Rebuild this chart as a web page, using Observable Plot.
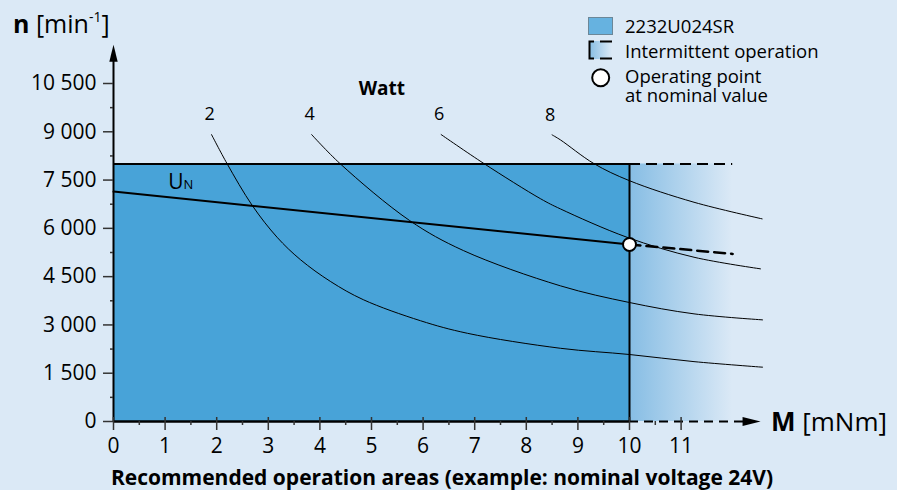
<!DOCTYPE html>
<html><head><meta charset="utf-8">
<script src="https://cdn.jsdelivr.net/npm/d3@7"></script>
<script src="https://cdn.jsdelivr.net/npm/@observablehq/plot@0.6"></script>
<style>
html,body{margin:0;padding:0;background:#dbe9f6;}
#chart svg{display:block;}
</style></head><body><div id="chart"></div>
<script>
// ---------- data ----------
const xTicks = [0,1,2,3,4,5,6,7,8,9,10,11];
const xTickLabels = ["0","1","2","3","4","5","6","7","8","9","10","11"];
const xMinorTicks = [0.5,1.5,2.5,3.5,4.5,5.5,6.5,7.5,8.5,9.5,10.5];
const yTicks = [0,1500,3000,4500,6000,7500,9000,10500];
const yTickLabels = ["0","1 500","3 000","4 500","6 000","7 500","9 000","10 500"];
const yMinorTicks = [750,2250,3750,5250,6750,8250,9750];

// recommended area (continuous) and intermittent extension [mNm, min-1]
const areaTorque = [0, 10];
const areaSpeed = [0, 8000];
const intermittentTorqueEnd = 12;
const axisEndTorque = 12.54;
const axisEndSpeed = 11700;

// nominal voltage line U_N
const unContinuous = [[0,7143],[10,5500]];
const unIntermittent = [[10,5500],[12,5207]];
const operatingPoint = [[10,5500]];

// constant power curves (Watt)
const powerLabels = ["2","4","6","8"];
const power2W = [[1.90,8913],[2.20,8012],[2.69,6708],[3.17,5724],[3.62,5031],[4.21,4345],[4.84,3785],[5.95,3130],[6.86,2740],[8.66,2275],[10,2081],[11.25,1860],[12.58,1687]];
const power4W = [[3.84,8913],[4.39,8012],[5.74,6242],[6.78,5311],[8.66,4215],[10,3696],[11.25,3344],[12.58,3157]];
const power6W = [[6.35,8913],[7.18,8012],[8.28,6916],[8.66,6605],[9.95,5724],[11.25,5103],[12.54,4742]];
const power8W = [[8.50,8904],[8.66,8750],[9.31,8012],[10,7480],[11.25,6811],[12.57,6295]];

const powerSeries = [power2W, power4W, power6W, power8W];
const powerTable = powerSeries.flatMap((pts, i) => pts.map(([m, n]) => ({w: powerLabels[i], m, n})));
const powerStarts = powerSeries.map((pts, i) => ({w: powerLabels[i], m: pts[0][0], n: pts[0][1]}));

// ---------- style ----------
const BG = "#dbe9f6", BLUE = "#48a3d8";
const FONT = "'Open Sans', sans-serif";

const arrowUp = {draw(ctx){ ctx.moveTo(0,0); ctx.lineTo(4.2,17); ctx.lineTo(-4.2,17); ctx.closePath(); }};
const arrowRight = {draw(ctx){ ctx.moveTo(0,0); ctx.lineTo(-18,-4.5); ctx.lineTo(-18,4.5); ctx.closePath(); }};

function defs() {
  const d = d3.create("svg:defs");
  const g = d.append("linearGradient").attr("id","interm").attr("x1",0).attr("x2",1).attr("y1",0).attr("y2",0);
  g.append("stop").attr("offset",0).attr("stop-color","#86bde4");
  g.append("stop").attr("offset",1).attr("stop-color",BG);
  return d.node();
}

function labels(index, scales) {
  const g = d3.create("svg:g").attr("font-family", FONT).attr("fill", "black").attr("text-anchor", "start");
  // y title
  const yt = g.append("text").attr("x", 13).attr("y", 33).attr("font-size", 25);
  yt.append("tspan").attr("font-weight", "bold").text("n");
  yt.append("tspan").text(" [min");
  yt.append("tspan").attr("font-size", 14).attr("dy", -11).text("-1");
  yt.append("tspan").attr("dy", 11).text("]");
  // x title
  const xt = g.append("text").attr("x", 771).attr("y", 431).attr("font-size", 26);
  xt.append("tspan").attr("font-weight", "bold").text("M");
  xt.append("tspan").text(" [mNm]");
  // U_N
  const un = g.append("text").attr("x", scales.x(1.07)).attr("y", scales.y(7200)).attr("font-size", 21);
  un.append("tspan").text("U");
  un.append("tspan").attr("font-size", 13).text("N");
  // Watt
  g.append("text").attr("x", scales.x(5.21)).attr("y", 95).attr("font-size", 19)
    .attr("font-weight", "bold").attr("text-anchor", "middle").text("Watt");
  // caption
  g.append("text").attr("x", 442).attr("y", 485).attr("font-size", 21)
    .attr("font-weight", "bold").attr("text-anchor", "middle")
    .text("Recommended operation areas (example: nominal voltage 24V)");
  // legend
  g.append("rect").attr("x", 588.5).attr("y", 17.5).attr("width", 24).attr("height", 17)
    .attr("fill", "#66b2e0").attr("stroke", "#6b8798").attr("stroke-width", 1);
  g.append("text").attr("x", 625).attr("y", 33).attr("font-size", 18.5).text("2232U024SR");
  g.append("rect").attr("x", 589).attr("y", 41).attr("width", 23).attr("height", 18).attr("fill", "url(#interm)");
  g.append("path").attr("d", "M594,41.5H589.5V58.5H594 M600,41.5H612 M600,58.5H612")
    .attr("fill", "none").attr("stroke", "black").attr("stroke-width", 2);
  g.append("text").attr("x", 625).attr("y", 58).attr("font-size", 18.5).text("Intermittent operation");
  g.append("circle").attr("cx", 600.7).attr("cy", 77.7).attr("r", 8.5)
    .attr("fill", "white").attr("stroke", "black").attr("stroke-width", 2);
  g.append("text").attr("x", 625).attr("y", 83).attr("font-size", 18.5).text("Operating point");
  g.append("text").attr("x", 625).attr("y", 101.5).attr("font-size", 18.5).text("at nominal value");
  return g.node();
}

const chart = Plot.plot({
  width: 897,
  height: 490,
  marginLeft: 113,
  marginRight: 10,
  marginTop: 45,
  marginBottom: 69,
  style: {background: BG, fontFamily: FONT, color: "black"},
  x: {domain: [0, 10], range: [113, 629]},
  y: {domain: [0, 10500], range: [421, 83]},
  marks: [
    defs,
    Plot.rect([0], {x1: areaTorque[0], x2: areaTorque[1], y1: areaSpeed[0], y2: areaSpeed[1], fill: BLUE}),
    Plot.rect([0], {x1: areaTorque[1], x2: intermittentTorqueEnd, y1: areaSpeed[0], y2: areaSpeed[1], fill: "url(#interm)"}),
    Plot.line(powerTable, {x: "m", y: "n", z: "w", stroke: "black", strokeWidth: 1, curve: "catmull-rom"}),
    Plot.text(powerStarts, {x: "m", y: "n", text: "w", dy: -20, dx: -2, fontSize: 18, fill: "black"}),
    // area borders
    Plot.ruleY([areaSpeed[1]], {x1: areaTorque[0], x2: areaTorque[1], stroke: "black", strokeWidth: 2}),
    Plot.ruleY([areaSpeed[1]], {x1: areaTorque[1], x2: intermittentTorqueEnd, stroke: "black", strokeWidth: 2, strokeDasharray: "11,6"}),
    Plot.ruleX([areaTorque[1]], {y1: areaSpeed[0], y2: areaSpeed[1], stroke: "black", strokeWidth: 2}),
    // U_N
    Plot.line(unContinuous, {x: d => d[0], y: d => d[1], stroke: "black", strokeWidth: 2}),
    Plot.line(unIntermittent, {x: d => d[0], y: d => d[1], stroke: "black", strokeWidth: 2.5, strokeDasharray: "11,6"}),
    // axes lines
    Plot.ruleX([0], {y1: 0, y2: axisEndSpeed - 300, stroke: "black", strokeWidth: 2}),
    Plot.ruleY([0], {x1: 0, x2: areaTorque[1], stroke: "black", strokeWidth: 2.5}),
    Plot.ruleY([0], {x1: areaTorque[1], x2: axisEndTorque - 0.3, stroke: "black", strokeWidth: 2, strokeDasharray: "9,6"}),
    Plot.dot([{m: 0, n: axisEndSpeed}], {x: "m", y: "n", symbol: arrowUp, fill: "black", stroke: "none"}),
    Plot.dot([{m: axisEndTorque, n: 0}], {x: "m", y: "n", symbol: arrowRight, fill: "black", stroke: "none"}),
    // ticks
    Plot.axisY({ticks: yTicks, tickSize: 10, tickPadding: 7, fontSize: 21, stroke: "#333", strokeWidth: 1.5,
      tickFormat: d => yTickLabels[yTicks.indexOf(d)], label: null}),
    Plot.axisY({ticks: yMinorTicks, tickSize: 3, tickFormat: () => "", stroke: "#333", strokeWidth: 1.5, label: null}),
    Plot.axisX({ticks: xTicks, tickSize: 13, dy: -4, tickFormat: () => "", stroke: "#333", strokeWidth: 1.5, label: null}),
    Plot.axisX({ticks: xMinorTicks, tickSize: 4, tickFormat: () => "", stroke: "#333", strokeWidth: 1.5, label: null}),
    Plot.axisX({ticks: xTicks, tickSize: 0, tickPadding: 17, fontSize: 21,
      tickFormat: d => xTickLabels[xTicks.indexOf(d)], label: null}),
    // operating point
    Plot.dot(operatingPoint, {x: d => d[0], y: d => d[1], r: 6.5, fill: "white", stroke: "black", strokeWidth: 2}),
    labels
  ]
});
document.getElementById("chart").appendChild(chart);
</script></body></html>
